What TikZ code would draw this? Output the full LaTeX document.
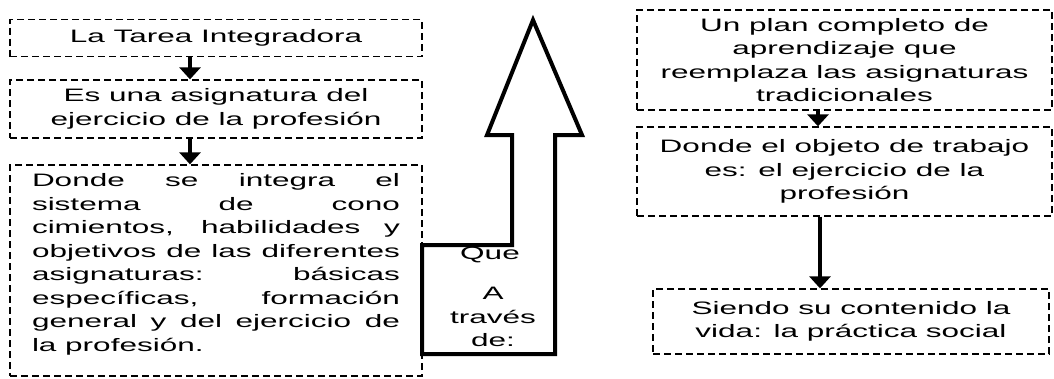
\documentclass[tikz,border=0pt]{standalone}
\usepackage{fontspec}
\setmainfont{Liberation Sans}[FakeStretch=1.75]
\usepackage{tikz}
\usetikzlibrary{arrows.meta}

\begin{document}
\begin{tikzpicture}[x=1pt,y=-1pt,
	texto/.style={inner sep=0pt, font=\fontsize{18}{23.5}\selectfont},
	caja/.style={texto, draw, dash pattern=on 7pt off 4pt, line width=1.3pt, align=center},
	flecha/.style={line width=4pt, -{Triangle[width=21pt,length=12pt]}}]
	\useasboundingbox (0,0) rectangle (1054,378);
	% columna izquierda
	\node[caja, minimum width=412pt, minimum height=37pt] (tarea) at (216,38) {La Tarea Integradora};
	\node[caja, minimum width=412pt, minimum height=58pt] (asignatura) at (216,109) {Es una asignatura del\\ejercicio de la profesi\'on};
	\node[caja, minimum width=412pt, minimum height=211pt, text width=368pt, align=justify] (donde) at (216,270.5)
		{\hyphenpenalty=10000 \tolerance=10000
		Donde se integra el\linebreak sistema de cono\linebreak cimientos, habilidades y\linebreak objetivos de las diferentes\linebreak asignaturas: b\'asicas\linebreak espec\'ificas, formaci\'on\linebreak general y del ejercicio de\linebreak la profesi\'on.\par\kern12pt};
	\draw[flecha] ([xshift=-26pt]tarea.south) -- ([xshift=-26pt]asignatura.north);
	\draw[flecha] ([xshift=-26pt]asignatura.south) -- ([xshift=-26pt]donde.north);
	% flecha grande
	\filldraw[fill=white, line width=4pt] (533,20) -- (582,135) -- (555,135) -- (555,354) -- (422,354) --
		(422,245) -- (512,245) -- (512,135) -- (487,135) -- cycle;
	\node[texto] (que) at (490,255) {Que};
	\node[texto, align=center] (atraves) at (493,317) {A\\trav\'es\\de:};
	% columna derecha
	\node[caja, minimum width=415pt, minimum height=100pt] (plan) at (844.5,60) {Un plan completo de\\aprendizaje que\\reemplaza las asignaturas\\tradicionales};
	\node[caja, minimum width=415pt, minimum height=89pt] (objeto) at (844.5,171.5) {Donde el objeto de trabajo\\es: el ejercicio de la\\profesi\'on};
	\node[caja, minimum width=396pt, minimum height=65pt] (siendo) at (851,321.5) {Siendo su contenido la\\vida: la pr\'actica social};
	\draw[flecha] ([xshift=-26.5pt]plan.south) -- ([xshift=-26.5pt]objeto.north);
	\draw[flecha] ([xshift=-24.5pt]objeto.south) -- ([xshift=-24.5pt]objeto.south |- siendo.north);
\end{tikzpicture}
\end{document}
